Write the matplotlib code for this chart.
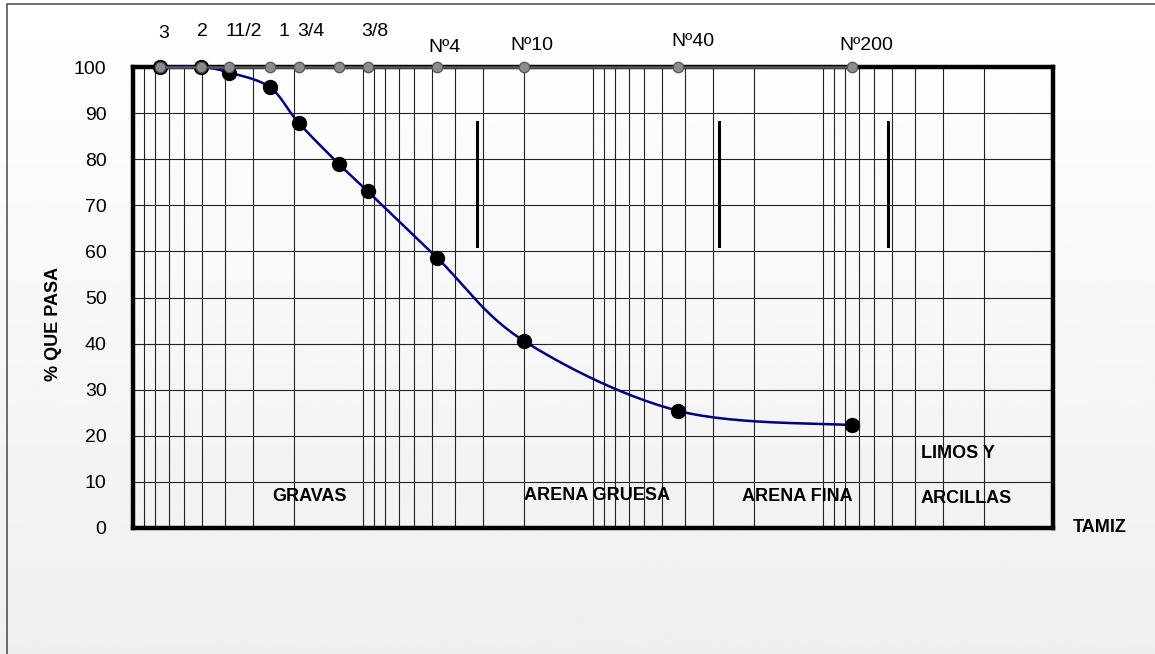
import numpy as np
import matplotlib
matplotlib.use("Agg")
import matplotlib.pyplot as plt
from matplotlib.patches import Rectangle

plt.rcParams['font.family'] = ['Liberation Sans', 'DejaVu Sans']

# sieve openings (mm) and percentages passing
sieve_mm = [76.2, 50.8, 38.1, 25.4, 19.05, 12.7, 9.525, 4.76, 2.0, 0.425, 0.075]
sieve_labels = ["3", "2", "11/2", "1", "3/4", "", "3/8", "Nº4", "Nº10", "Nº40", "Nº200"]
pct_pass = [100, 100, 98.8, 95.6, 87.9, 78.9, 73.0, 58.6, 40.6, 25.4, 22.3]

# divider bars between soil classes (mm, from/to %)
divider_mm = [3.2, 0.284, 0.052]
divider_pct = (61.2, 88.1)

# label offsets above the sieve markers (pixels)
label_dx = [4, 2, 14, 14, 12, 0, 7, 7, 8, 14, 15]
label_dy = [34, 35, 35, 35, 35, 35, 35, 20, 21, 25, 21]

fig = plt.figure(figsize=(11.55, 6.54), dpi=100)

# light gradient background
bg = fig.add_axes([0, 0, 1, 1], zorder=-10)
grad = np.linspace(1.0, 0.937, 256).reshape(-1, 1)
bg.imshow(grad, aspect='auto', cmap='gray', vmin=0, vmax=1, extent=[0, 1, 0, 1])
bg.axis('off')
fig.patches.append(Rectangle((6.5 / 1155, -0.1), 1.2, 1.1 - 4.5 / 654, transform=fig.transFigure,
                             fill=False, edgecolor='#555555', linewidth=1.2, zorder=-5))

ax = fig.add_axes([133 / 1155, 1 - 528 / 654, 920 / 1155, 461 / 654])
ax.set_facecolor('none')
ax.set_xscale('log')
ax.set_xlim(100, 0.01)
ax.set_ylim(0, 100)

ax.set_yticks(range(0, 101, 10))
ax.tick_params(axis='y', length=0, pad=19, labelsize=14)
ax.set_xticks([])
ax.set_xticks([], minor=True)
ax.tick_params(axis='x', which='both', length=0, labelbottom=False)

# grid: log minor lines and every 10 %
for dec in [0.01, 0.1, 1, 10]:
    for k in range(1, 10):
        v = k * dec
        if 0.01 < v < 100:
            ax.axvline(v, color='#222222', linewidth=0.8, zorder=1)
for yv in range(10, 100, 10):
    ax.axhline(yv, color='#222222', linewidth=0.8, zorder=1)

for s in ax.spines.values():
    s.set_linewidth(3.2)
    s.set_color('black')

# smooth curve (Catmull-Rom in display coords, like Excel smoothing)
fig.canvas.draw()
pts = ax.transData.transform(np.column_stack([sieve_mm, pct_pass]))
ext = np.vstack([pts[0], pts, pts[-1]])
curve = []
for i in range(1, len(ext) - 2):
    p0, p1, p2, p3 = ext[i - 1], ext[i], ext[i + 1], ext[i + 2]
    c1 = p1 + (p2 - p0) / 6
    c2 = p2 - (p3 - p1) / 6
    t = np.linspace(0, 1, 30)[:, None]
    seg = (1 - t) ** 3 * p1 + 3 * (1 - t) ** 2 * t * c1 + 3 * (1 - t) * t ** 2 * c2 + t ** 3 * p2
    curve.append(seg)
curve = ax.transData.inverted().transform(np.vstack(curve))
ax.plot(curve[:, 0], curve[:, 1], color='#000080', linewidth=1.8, zorder=3, clip_on=False)
ax.plot(sieve_mm, pct_pass, 'o', color='black', markersize=10, zorder=4, clip_on=False)

# sieve reference markers on the 100 % line
ax.plot(sieve_mm, [100] * len(sieve_mm), '-', color='#5a5a5a', linewidth=1.8, zorder=5, clip_on=False)
ax.plot(sieve_mm, [100] * len(sieve_mm), 'o', color='#8c8c8c', markeredgecolor='#555555',
        markeredgewidth=0.9, markersize=7.5, zorder=6, clip_on=False)
for xm, lab, dx, dy in zip(sieve_mm, sieve_labels, label_dx, label_dy):
    if lab:
        ax.annotate(lab, (xm, 100), xytext=(dx, dy), textcoords='offset pixels',
                    ha='center', va='center', fontsize=14)

for xm in divider_mm:
    ax.plot([xm, xm], divider_pct, color='black', linewidth=2.2, zorder=3)

bold = dict(fontsize=13, fontweight='bold')
ax.text(0.192, 0.069, "GRAVAS", transform=ax.transAxes, ha='center', va='center', **bold)
ax.text(0.504, 0.071, "ARENA GRUESA", transform=ax.transAxes, ha='center', va='center', **bold)
ax.text(0.722, 0.069, "ARENA FINA", transform=ax.transAxes, ha='center', va='center', **bold)
ax.text(0.856, 0.162, "LIMOS Y", transform=ax.transAxes, ha='left', va='center', **bold)
ax.text(0.856, 0.063, "ARCILLAS", transform=ax.transAxes, ha='left', va='center', **bold)
ax.text(1.051, 0.0, "TAMIZ", transform=ax.transAxes, ha='center', va='center', **bold)
fig.text(53.5 / 1155, 1 - 323.5 / 654, "% QUE PASA", rotation=90, ha='center', va='center', **bold)

fig.savefig("out.png", dpi=100)
